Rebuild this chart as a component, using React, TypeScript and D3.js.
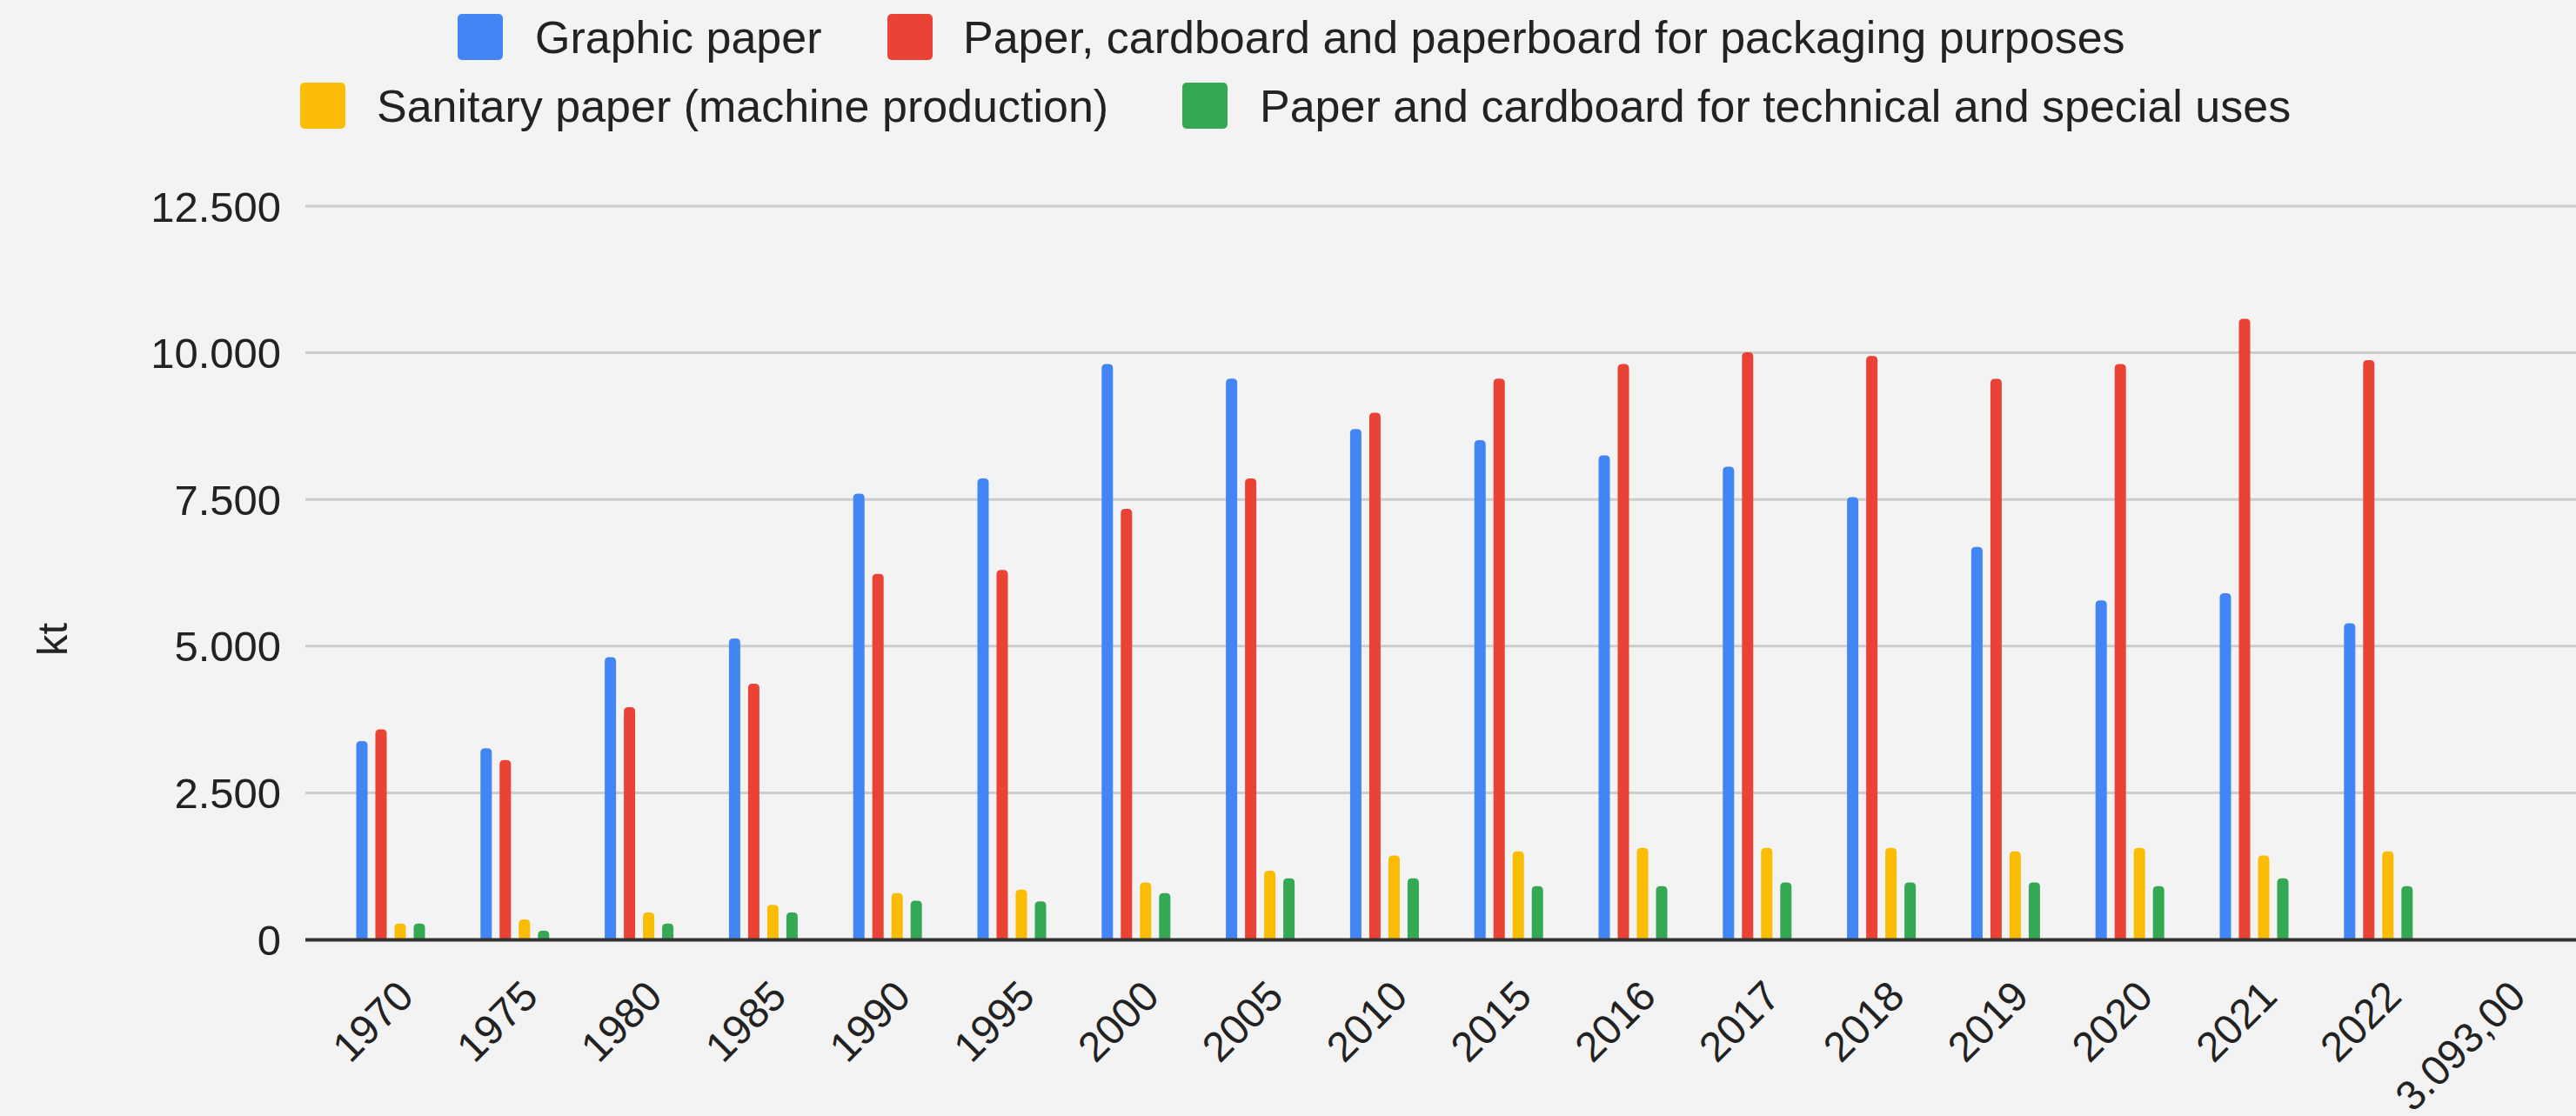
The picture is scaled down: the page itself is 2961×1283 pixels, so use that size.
import React from "react";
import * as d3 from "d3";

const categories = ["1970","1975","1980","1985","1990","1995","2000","2005","2010","2015","2016","2017","2018","2019","2020","2021","2022","3.093,00"];
const seriesNames = [
  "Graphic paper",
  "Paper, cardboard and paperboard for packaging purposes",
  "Sanitary paper (machine production)",
  "Paper and cardboard for technical and special uses",
];
const seriesColors = ["#4285F4", "#EA4335", "#FBBC04", "#34A853"];
const graphicPaper = [3380, 3260, 4810, 5130, 7600, 7860, 9810, 9560, 8700, 8510, 8250, 8060, 7540, 6690, 5780, 5900, 5390, null];
const packagingPaper = [3580, 3060, 3960, 4360, 6230, 6300, 7340, 7860, 8980, 9560, 9810, 10010, 9945, 9556, 9809, 10580, 9877, null];
const sanitaryPaper = [270, 340, 460, 590, 790, 850, 970, 1170, 1430, 1500, 1560, 1560, 1560, 1500, 1560, 1430, 1500, null];
const technicalPaper = [270, 150, 270, 460, 660, 650, 790, 1040, 1040, 910, 910, 970, 970, 970, 910, 1040, 910, null];
const yTicks = [0, 2500, 5000, 7500, 10000, 12500];
const yAxisTitle = "kt";

const W = 2961, H = 1283;
const FONT = "Arial, 'Liberation Sans', sans-serif";

const locale = d3.formatLocale({ decimal: ",", thousands: ".", grouping: [3], currency: ["", ""] });
const fmt = locale.format(",d");

function barPath(x: number, y: number, w: number, h: number, r: number) {
  const rr = Math.min(r, w / 2, h);
  return `M${x},${y + h}V${y + rr}Q${x},${y} ${x + rr},${y}H${x + w - rr}Q${x + w},${y} ${x + w},${y + rr}V${y + h}Z`;
}

export default function App() {
  const series = [graphicPaper, packagingPaper, sanitaryPaper, technicalPaper];
  const x0 = d3.scaleBand<string>().domain(categories).range([377.6, 377.6 + 142.8 * categories.length]).padding(0);
  const x1 = d3.scaleBand<number>().domain(d3.range(series.length)).range([0, 79]).paddingInner(9 / 22).paddingOuter(0);
  const y = d3.scaleLinear().domain([0, 12500]).range([1080, 237]);
  const plotLeft = 351, plotRight = W;

  const legendRows = [
    [{ i: 0, sx: 526, tx: 615 }, { i: 1, sx: 1020, tx: 1107 }],
    [{ i: 2, sx: 345, tx: 433 }, { i: 3, sx: 1359, tx: 1448 }],
  ];
  const legendY = [42.5, 121.5];

  return (
    <svg width={W} height={H} style={{ position: "absolute", left: 0, top: 0, display: "block" }} fontFamily={FONT}>
      <rect x={0} y={0} width={W} height={H} fill="#f3f3f3" />
      {/* legend */}
      {legendRows.map((row, ri) =>
        row.map((it) => (
          <g key={it.i}>
            <rect x={it.sx} y={legendY[ri] - 26.5} width={52} height={53} rx={5} fill={seriesColors[it.i]} />
            <text x={it.tx} y={legendY[ri] + 18.5} fontSize={52} fill="#222">{seriesNames[it.i]}</text>
          </g>
        ))
      )}
      {/* gridlines */}
      {yTicks.filter((t) => t !== 0).map((t) => (
        <line key={t} x1={plotLeft} x2={plotRight} y1={y(t)} y2={y(t)} stroke="#cccccc" strokeWidth={3} />
      ))}
      {/* y tick labels */}
      {yTicks.map((t) => (
        <text key={t} x={323} y={y(t) + 17.5} textAnchor="end" fontSize={49} fill="#222">{fmt(t)}</text>
      ))}
      {/* y axis title */}
      <text transform={`translate(77,735) rotate(-90)`} textAnchor="middle" fontSize={49} fill="#222">{yAxisTitle}</text>
      {/* bars */}
      {categories.map((c, ci) => {
        const gx = (x0(c) as number) + x0.bandwidth() / 2 - 39.5;
        return (
          <g key={c}>
            {series.map((s, si) => {
              const v = s[ci];
              if (v == null) return null;
              const bx = gx + (x1(si) as number);
              const top = y(v);
              return <path key={si} d={barPath(bx, top, x1.bandwidth(), y(0) - top, 5)} fill={seriesColors[si]} />;
            })}
          </g>
        );
      })}
      {/* x axis line */}
      <line x1={plotLeft} x2={plotRight} y1={y(0) + 0.5} y2={y(0) + 0.5} stroke="#333333" strokeWidth={4} />
      {/* x labels */}
      {categories.map((c) => {
        const cx = (x0(c) as number) + x0.bandwidth() / 2;
        return (
          <text key={c} transform={`translate(${cx + 29},1148) rotate(-45)`} textAnchor="end" fontSize={48} fill="#222">{c}</text>
        );
      })}
    </svg>
  );
}
